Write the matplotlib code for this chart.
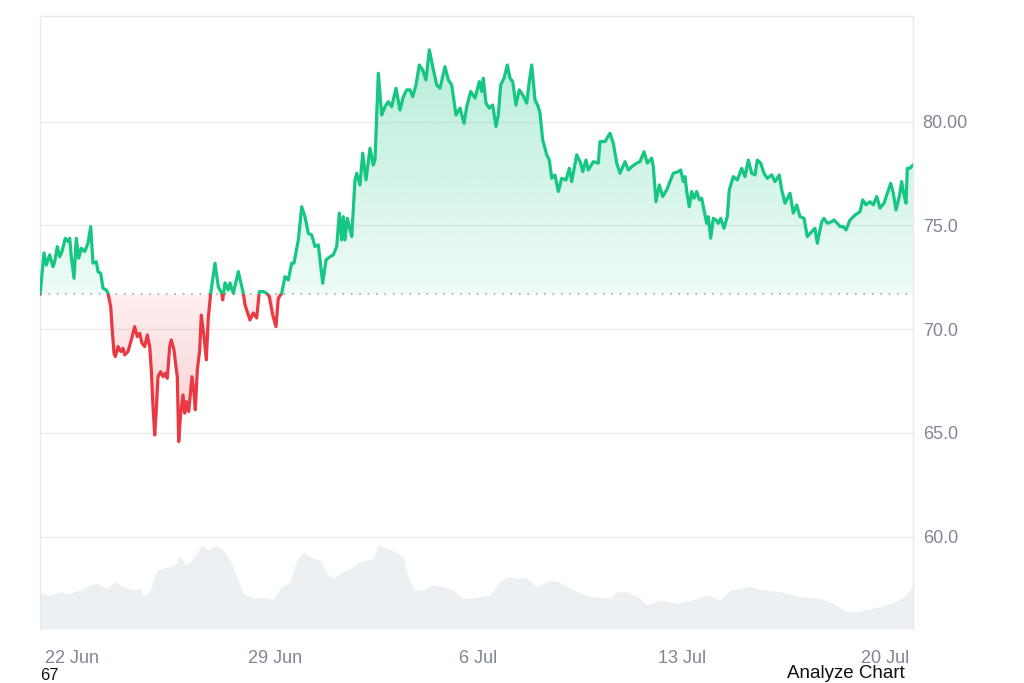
import numpy as np
import matplotlib
matplotlib.use("Agg")
import matplotlib.pyplot as plt
from matplotlib.path import Path
from matplotlib.patches import Rectangle
from matplotlib.colors import to_rgb

plt.rcParams['font.family'] = ['Liberation Sans', 'DejaVu Sans']

# ---------------- data ----------------
# time in days relative to 22 Jun (00:00)
price_days = [
    -1.10, -0.964, -0.885, -0.768, -0.654, -0.596, -0.506, -0.424, -0.344, -0.231, -0.138, -0.079, -0.024, 0.069,
    0.148, 0.231, 0.320, 0.437, 0.551, 0.644, 0.723, 0.837, 0.895, 0.988, 1.067, 1.181, 1.240, 1.333, 1.377, 1.446,
    1.491, 1.584, 1.677, 1.756, 1.815, 1.928, 2.042, 2.159, 2.249, 2.331, 2.410, 2.503, 2.593, 2.676, 2.731, 2.789,
    2.848, 2.903, 2.961, 3.054, 3.134, 3.213, 3.282, 3.364, 3.419, 3.512, 3.571, 3.626, 3.674, 3.743, 3.822, 3.881,
    3.936, 4.019, 4.087, 4.132, 4.201, 4.246, 4.315, 4.397, 4.452, 4.545, 4.625, 4.693, 4.776, 4.924, 5.038, 5.155,
    5.189, 5.269, 5.382, 5.441, 5.555, 5.727, 5.844, 5.899, 5.957, 6.071, 6.129, 6.243, 6.360, 6.450, 6.587, 6.705,
    6.794, 6.911, 7.025, 7.104, 7.221, 7.335, 7.448, 7.565, 7.645, 7.793, 7.910, 8.023, 8.137, 8.254, 8.368, 8.482,
    8.633, 8.747, 8.884, 8.998, 9.115, 9.205, 9.287, 9.343, 9.401, 9.480, 9.632, 9.745, 9.804, 9.917, 10.010, 10.124,
    10.262, 10.375, 10.434, 10.548, 10.665, 10.778, 10.892, 11.009, 11.157, 11.295, 11.409, 11.526, 11.639, 11.732,
    11.846, 11.959, 12.076, 12.190, 12.304, 12.421, 12.559, 12.672, 12.844, 12.958, 13.075, 13.223, 13.361, 13.499,
    13.592, 13.730, 13.878, 14.026, 14.108, 14.163, 14.256, 14.370, 14.487, 14.601, 14.680, 14.762, 14.876, 14.990,
    15.083, 15.176, 15.289, 15.403, 15.520, 15.658, 15.747, 15.830, 15.944, 16.057, 16.116, 16.209, 16.347, 16.436,
    16.519, 16.632, 16.746, 16.863, 17.011, 17.125, 17.207, 17.380, 17.517, 17.586, 17.700, 17.779, 17.951, 18.123,
    18.182, 18.354, 18.526, 18.640, 18.757, 18.871, 19.043, 19.157, 19.274, 19.446, 19.559, 19.697, 19.811, 19.962,
    20.017, 20.110, 20.224, 20.341, 20.479, 20.592, 20.706, 20.878, 20.961, 21.050, 21.109, 21.168, 21.257, 21.340,
    21.419, 21.512, 21.601, 21.684, 21.763, 21.856, 21.911, 21.994, 22.083, 22.176, 22.255, 22.338, 22.452, 22.565,
    22.634, 22.772, 22.910, 23.061, 23.175, 23.289, 23.406, 23.519, 23.599, 23.716, 23.829, 23.943, 24.095, 24.208,
    24.356, 24.439, 24.552, 24.725, 24.838, 24.955, 25.069, 25.207, 25.320, 25.472, 25.585, 25.665, 25.816, 25.895,
    26.010, 26.161, 26.240, 26.354, 26.446, 26.560, 26.653, 26.791, 26.963, 27.135, 27.228, 27.342, 27.479, 27.593,
    27.710, 27.824, 27.961, 28.075, 28.192, 28.282, 28.375, 28.488, 28.571, 28.626, 28.719, 28.764, 28.857, 28.950,
]
prices = [
    71.68, 73.67, 73.09, 73.58, 73.01, 73.25, 73.98, 73.49, 73.74, 74.38, 74.22, 74.38, 73.49, 72.45,
    74.38, 73.42, 73.90, 73.74, 74.14, 74.94, 73.18, 73.25, 72.77, 72.69, 71.97, 71.89, 71.73, 71.08, 70.12, 68.84,
    68.68, 69.16, 68.92, 69.08, 68.76, 68.92, 69.48, 70.12, 69.64, 69.80, 69.32, 69.16, 69.72, 69.16, 68.03, 66.27,
    64.90, 66.11, 67.71, 67.95, 67.71, 67.88, 67.63, 69.16, 69.48, 69.00, 68.28, 67.71, 64.58, 65.95, 66.83, 65.95,
    66.51, 66.03, 67.07, 67.71, 66.91, 66.11, 68.03, 69.00, 70.68, 69.64, 68.52, 70.54, 71.73, 73.18, 72.05, 71.73,
    71.41, 72.23, 71.89, 72.23, 71.73, 72.77, 72.05, 71.73, 71.17, 70.68, 70.44, 70.78, 70.54, 71.81, 71.81, 71.73,
    71.57, 70.68, 70.12, 71.49, 71.73, 72.53, 72.37, 73.18, 73.18, 74.30, 75.90, 75.42, 74.62, 74.54, 73.98, 74.06,
    72.21, 73.34, 73.49, 73.58, 73.98, 75.59, 74.30, 75.42, 74.30, 75.34, 74.46, 77.19, 77.51, 76.95, 78.48, 77.19,
    78.72, 77.91, 78.15, 82.33, 80.32, 80.72, 80.96, 80.72, 81.61, 80.56, 81.20, 81.53, 81.53, 81.20,
    81.77, 82.73, 82.49, 82.01, 83.46, 82.65, 81.77, 81.61, 82.65, 82.01, 81.77, 80.32, 80.65, 79.92,
    80.72, 81.45, 81.13, 81.93, 81.45, 82.09, 80.89, 80.65, 80.80, 79.76, 80.32, 81.77, 82.09, 82.73,
    82.09, 81.93, 80.80, 81.53, 81.29, 80.89, 81.93, 82.73, 81.05, 80.72, 80.40, 79.12, 78.40, 78.15,
    77.27, 77.43, 76.63, 77.27, 77.19, 77.75, 77.11, 78.40, 78.00, 77.59, 78.15, 77.67, 78.07, 78.00,
    79.04, 79.04, 79.44, 78.96, 78.00, 77.51, 78.07, 77.67, 77.83, 78.00, 78.07, 78.55, 78.00, 78.24,
    77.83, 76.14, 76.95, 76.39, 76.71, 77.11, 77.51, 77.59, 77.67, 77.11, 77.35, 76.63, 75.90, 76.63,
    76.31, 76.63, 76.23, 76.31, 75.74, 75.10, 75.42, 74.38, 75.34, 75.26, 75.10, 75.34, 74.86, 75.42,
    76.71, 77.35, 77.19, 77.75, 77.35, 78.15, 77.51, 77.43, 78.15, 78.00, 77.51, 77.27, 77.43, 77.11,
    77.43, 76.71, 76.07, 76.55, 75.59, 75.99, 75.42, 75.34, 74.46, 74.70, 74.86, 74.14, 75.18, 75.34,
    75.10, 75.18, 75.26, 75.10, 74.94, 74.94, 74.78, 75.26, 75.50, 75.66, 76.23, 75.99, 76.14, 75.99,
    76.39, 75.83, 76.07, 76.55, 77.03, 76.55, 75.74, 76.39, 77.11, 76.63, 76.07, 77.75, 77.75, 77.91,
]

# relative trading volume (arbitrary units)
volume_days = [
    -1.102, -0.758, -0.355, -0.183, 0.275, 0.620, 0.851, 1.195, 1.481, 1.767, 2.111, 2.342, 2.455, 2.686, 2.917,
    3.089, 3.375, 3.605, 3.719, 3.891, 4.063, 4.294, 4.466, 4.694, 4.983, 5.210, 5.441, 5.671, 5.899, 6.243,
    6.587, 6.932, 7.163, 7.507, 7.738, 7.965, 8.309, 8.540, 8.771, 8.998, 9.229, 9.573, 9.917, 10.148, 10.375,
    10.548, 10.837, 11.123, 11.409, 11.581, 11.811, 12.097, 12.386, 12.786, 13.130, 13.419, 13.705, 14.050, 14.394,
    14.680, 14.969, 15.427, 15.599, 16.002, 16.460, 16.746, 17.263, 17.837, 18.526, 18.757, 19.101, 19.559, 19.790,
    20.248, 20.823, 21.340, 21.856, 22.314, 22.658, 23.003, 23.347, 23.805, 24.380, 25.069, 25.758, 26.216, 26.677,
    27.021, 27.366, 27.824, 28.282, 28.626, 28.881, 28.960,
]
volumes = [
    35.7, 34.0, 37.3, 35.0, 39.0, 44.0, 45.7, 40.7, 47.3, 42.3, 39.0, 40.7, 33.0, 37.3, 59.0,
    60.7, 62.3, 65.7, 74.0, 64.0, 67.3, 75.7, 84.0, 79.0, 84.0, 79.0, 69.0, 52.3, 35.7, 30.7,
    31.7, 29.7, 40.7, 47.3, 69.0, 76.3, 70.7, 69.0, 55.7, 50.7, 55.7, 60.7, 67.3, 69.0, 70.7,
    84.0, 80.7, 77.3, 72.3, 50.7, 39.0, 39.0, 44.0, 42.3, 39.0, 30.7, 30.7, 32.3, 34.0,
    45.7, 52.3, 50.7, 52.3, 42.3, 49.0, 47.3, 39.0, 32.3, 30.7, 37.3, 37.3, 30.7, 24.0,
    29.0, 25.7, 29.0, 34.0, 29.0, 39.0, 40.7, 42.3, 39.0, 37.3, 32.3, 30.7, 25.7, 17.3,
    17.3, 19.7, 22.3, 26.3, 32.3, 40.7, 42.0,
]

tick_days = [0, 7, 14, 21, 28]
tick_labels = ["22 Jun", "29 Jun", "6 Jul", "13 Jul", "20 Jul"]
y_ticks = [60, 65, 70, 75, 80]
y_tick_labels = ["60.0", "65.0", "70.0", "75.0", "80.00"]

# ---------------- style ----------------
GREEN = "#16c784"
RED = "#ea3943"
GRID = "#ececec"
SPINE = "#e8e8e8"
LABEL = "#7f8694"
VOL = "#edf0f3"

n = min(len(price_days), len(prices))
x = np.array(price_days[:n])
y = np.array(prices[:n])
nv = min(len(volume_days), len(volumes))
vx = np.array(volume_days[:nv])
vv = np.array(volumes[:nv])
base = y[0]

XMIN, XMAX = -1.102, 28.96
YMIN, YMAX = 55.55, 85.09

fig = plt.figure(figsize=(10.24, 6.83), dpi=100)
fig.patch.set_facecolor("white")
pos = [40 / 1024, 54 / 683, 873 / 1024, 613 / 683]

# volume layer
axv = fig.add_axes(pos, zorder=0)
axv.fill_between(vx, vv, 0, color=VOL, lw=0)
axv.set_xlim(XMIN, XMAX)
axv.set_ylim(0, vv.max() * 613 / 84)
axv.axis("off")

ax = fig.add_axes(pos, zorder=1)
ax.patch.set_visible(False)


def grad_fill(where, a_near, a_far, y_near, y_far, color):
    coll = ax.fill_between(x, y, base, where=where, interpolate=True, color="none", lw=0)
    paths = coll.get_paths()
    coll.remove()
    if not paths:
        return
    path = Path.make_compound_path(*paths)
    rgb = to_rgb(color)
    N = 256
    img = np.zeros((N, 1, 4))
    img[:, 0, :3] = rgb
    top, bot = max(y_near, y_far), min(y_near, y_far)
    if y_far > y_near:
        alphas = np.linspace(a_far, a_near, N)
    else:
        alphas = np.linspace(a_near, a_far, N)
    img[:, 0, 3] = alphas
    im = ax.imshow(img, extent=[XMIN, XMAX, bot, top], aspect="auto",
                   origin="upper", zorder=1, interpolation="bilinear")
    im.set_clip_path(path, ax.transData)


grad_fill(y >= base, 0.07, 0.32, base, YMAX - 1, GREEN)
grad_fill(y <= base, 0.08, 0.27, base, 63.5, RED)

# grid lines
for v in y_ticks:
    ax.axhline(v, color=GRID, lw=1, zorder=0.5)

# baseline
ax.axhline(base, color="#9a9a9a", lw=1.1, ls=(0, (1, 4.5)), zorder=2)

# price line split above / below baseline
lg, = ax.plot(x, y, color=GREEN, lw=2.3, zorder=3, solid_joinstyle="round", solid_capstyle="round")
lg.set_clip_path(Rectangle((XMIN, base), XMAX - XMIN, 100, transform=ax.transData))
lr, = ax.plot(x, y, color=RED, lw=2.3, zorder=3, solid_joinstyle="round", solid_capstyle="round")
lr.set_clip_path(Rectangle((XMIN, base - 100), XMAX - XMIN, 100, transform=ax.transData))

ax.set_xlim(XMIN, XMAX)
ax.set_ylim(YMIN, YMAX)

ax.yaxis.tick_right()
ax.set_yticks(y_ticks)
ax.set_yticklabels(y_tick_labels)
ax.set_xticks(tick_days)
ax.set_xticklabels(tick_labels)
ax.tick_params(axis="y", length=0, pad=7, labelsize=13, labelcolor=LABEL)
ax.tick_params(axis="x", length=0, pad=15, labelsize=13, labelcolor=LABEL)

for s in ["left", "top", "right"]:
    ax.spines[s].set_color(SPINE)
    ax.spines[s].set_linewidth(1)
ax.spines["bottom"].set_visible(False)

fig.text(905 / 1024, 5 / 683, "Analyze Chart", ha="right", va="baseline",
         fontsize=13.5, color="#111111")
fig.text(40 / 1024, 0.5 / 683, "67", ha="left", va="bottom",
         fontsize=12, color="#111111")

fig.savefig("out.png", dpi=100, facecolor="white")
